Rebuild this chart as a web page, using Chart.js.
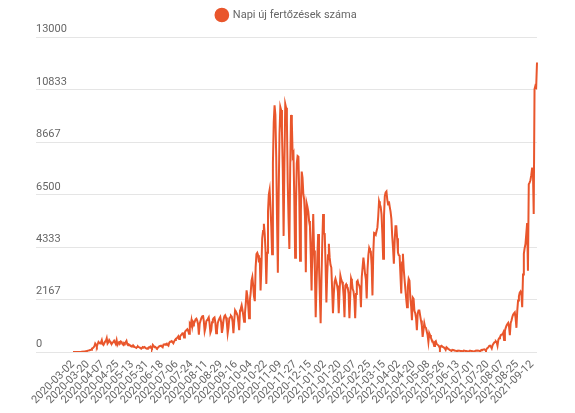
<!DOCTYPE html>
<html>
<head>
<meta charset="utf-8">
<script src="https://cdn.jsdelivr.net/npm/chart.js@4.4.1/dist/chart.umd.min.js"></script>
<style>
  html, body { margin: 0; padding: 0; background: #fff; }
  #wrap { width: 575px; height: 413px; }
</style>
</head>
<body>
<div id="wrap"><canvas id="casesChart"></canvas></div>
<script>
const seriesName = 'Napi új fertőzések száma';
const startDate = '2020-03-02';
const missingDate = '2021-07-10'; // one day is absent from the source between 07-01 and 07-20
const labelStep = 18;
const yTicks = [0, 2167, 4333, 6500, 8667, 10833, 13000];
const lineColor = 'rgb(233, 86, 44)';

// daily values, one row per week
const dailyCases = [
    0, 0, 0, 1, 2, 0, 1,
    2, 1, 4, 6, 9, 12, 16,
    22, 28, 35, 45, 57, 60, 70,
    80, 95, 140, 160, 190, 240, 350,
    300, 230, 330, 420, 380, 350, 400,
    490, 330, 290, 360, 430, 460, 570,
    350, 400, 490, 430, 370, 330, 380,
    420, 470, 400, 350, 490, 300, 370,
    410, 380, 440, 420, 330, 300, 380,
    350, 400, 460, 320, 280, 310, 290,
    250, 230, 260, 220, 240, 200, 190,
    170, 210, 230, 200, 190, 160, 140,
    180, 200, 190, 210, 170, 150, 130,
    160, 190, 180, 220, 170, 150, 290,
    250, 200, 210, 180, 150, 170, 210,
    240, 250, 260, 230, 200, 310, 320,
    300, 330, 350, 290, 260, 380, 420,
    430, 450, 410, 360, 440, 500, 550,
    560, 600, 650, 540, 630, 690, 720,
    770, 765, 600, 820, 880, 900, 940,
    880, 750, 1170, 1110, 1310, 1050, 1240,
    1180, 1260, 1350, 1380, 1300, 1150, 720,
    1170, 1290, 1400, 1470, 1520, 1280, 850,
    1000, 1270, 1320, 1370, 1430, 1180, 800,
    900, 1230, 1340, 1400, 1430, 1220, 780,
    880, 1200, 1310, 1390, 1450, 1250, 790,
    1000, 1330, 1480, 1520, 1430, 1200, 770,
    1010, 1390, 1440, 1500, 1460, 1250, 780,
    1300, 1720, 1650, 1600, 1500, 1250, 900,
    1720, 1800, 1930, 1750, 1500, 1250, 1590,
    2000, 2550, 2300, 1900, 1400, 2150, 2450,
    2950, 3100, 2750, 2300, 2100, 3500, 4045,
    4100, 4000, 3700, 3900, 2540, 3500, 4700,
    5000, 5300, 4900, 4200, 2815, 4100, 5800,
    6505, 6700, 6000, 5200, 4045, 7800, 9500,
    10200, 9800, 8100, 5500, 3280, 6500, 9000,
    10130, 10000, 9100, 7500, 4800, 7800, 10250,
    10100, 9600, 7000, 5500, 4260, 7600, 9800,
    9500, 8100, 8200, 6300, 3900, 6000, 7800,
    8100, 8070, 6500, 3770, 5800, 7460, 7200,
    6520, 6300, 5600, 3300, 6150, 6000, 5800,
    5410, 5200, 4000, 2540, 4500, 5700, 4200,
    3360, 1435, 2800, 3900, 4880, 3600, 2400,
    1190, 3000, 4500, 5700, 4900, 4880, 3600,
    2050, 3200, 4000, 4470, 3900, 3600, 3490,
    2600, 1600, 2400, 2900, 3030, 2900, 2750,
    2500, 1600, 2500, 3160, 3000, 2900, 2750,
    2300, 1435, 2750, 2800, 2700, 2650, 2400,
    1400, 2300, 3030, 2900, 2600, 2500, 2200,
    1400, 2400, 2900, 2950, 2800, 2750, 2600,
    1850, 3100, 3500, 3900, 3600, 3225, 3000,
    2210, 3400, 4000, 4300, 4200, 4150, 3600,
    2340, 4100, 4920, 4900, 4850, 5000, 5140,
    5600, 6230, 6100, 6000, 5700, 4900, 3850,
    5600, 6440, 6600, 6640, 6300, 6100, 6230,
    6000, 5800, 5500, 4800, 4300, 3650, 4600,
    5200, 5200, 4700, 4110, 4000, 3980, 3200,
    2420, 3700, 4060, 3430, 3000, 2600, 2200,
    1850, 2700, 3030, 2950, 2250, 1900, 1310,
    2250, 2200, 1700, 1600, 1400, 900, 1600,
    1720, 1720, 1500, 1300, 1100, 620, 900,
    1190, 1025, 1000, 850, 700, 420, 780,
    700, 600, 500, 450, 380, 250, 420,
    450, 330, 300, 280, 230, 140, 240,
    260, 220, 200, 180, 150, 90, 200,
    170, 130, 110, 80, 70, 40, 90,
    80, 70, 60, 55, 45, 25, 60,
    55, 50, 45, 40, 35, 20, 55,
    50, 45, 40, 35, 30, 15, 50,
    55, 45, 40, 35, 25, 12, 50,
    60, 55, 60, 55, 45, 25, 75,
    90, 95, 100, 110, 85, 60, 140,
    170, 200, 250, 260, 220, 150, 280,
    340, 390, 410, 440, 400, 260, 500,
    570, 615, 700, 720, 720, 800, 500,
    880, 1000, 1100, 1150, 1200, 1050, 700,
    1200, 1300, 1450, 1550, 1600, 1640, 1400,
    1000, 1700, 2130, 2300, 2450, 2500, 2400,
    1850, 3200, 4060, 4300, 4470, 4900, 5330,
    3360, 6930, 7000, 7100, 7300, 7585, 7600,
    5700, 10865, 11000, 10950, 11970
];

// one label per day, skipping the absent date
let dates = [];
let day = new Date(startDate + 'T00:00:00Z');
while (dates.length < dailyCases.length) {
    let s = day.toISOString().slice(0, 10);
    if (s !== missingDate) dates.push(s);
    day.setUTCDate(day.getUTCDate() + 1);
}

Chart.defaults.font.family = 'Roboto';
Chart.defaults.font.size = 11;
Chart.defaults.color = '#666';

// extra space under the legend
const legendGap = {
    id: 'legendGap',
    beforeInit(chart) {
        const fit = chart.legend.fit;
        chart.legend.fit = function () {
            fit.call(this);
            this.height += 7;
        };
    }
};

new Chart(document.getElementById('casesChart'), {
    type: 'line',
    data: {
        labels: dates,
        datasets: [{
            label: seriesName,
            data: dailyCases,
            borderColor: lineColor,
            backgroundColor: lineColor,
            borderWidth: 2,
            pointRadius: 0,
            pointStyle: 'circle',
            tension: 0,
            fill: false
        }]
    },
    options: {
        animation: false,
        responsive: true,
        maintainAspectRatio: false,
        layout: { padding: { left: 36, right: 38, top: 0, bottom: 0 } },
        plugins: {
            legend: {
                labels: { usePointStyle: true, boxHeight: 9, padding: 9.5 }
            },
            tooltip: { enabled: false }
        },
        scales: {
            x: {
                grid: { display: false, drawTicks: false },
                border: { display: false },
                ticks: {
                    autoSkip: false,
                    minRotation: 45,
                    maxRotation: 45,
                    padding: 6,
                    callback: (v, i) => i % labelStep === 0 ? dates[i] : null
                },
                afterFit: s => { s.height = 61; }
            },
            y: {
                min: 0,
                max: 13000,
                border: { display: false },
                grid: { color: 'rgba(0,0,0,0.1)', lineWidth: 1, tickLength: 37 },
                ticks: {
                    crossAlign: 'far',
                    labelOffset: -8,
                    padding: 0,
                    callback: v => String(v)
                },
                afterBuildTicks: s => { s.ticks = yTicks.map(v => ({ value: v })); },
                afterFit: s => { s.width = 37; }
            }
        }
    },
    plugins: [legendGap]
});
</script>
</body>
</html>
